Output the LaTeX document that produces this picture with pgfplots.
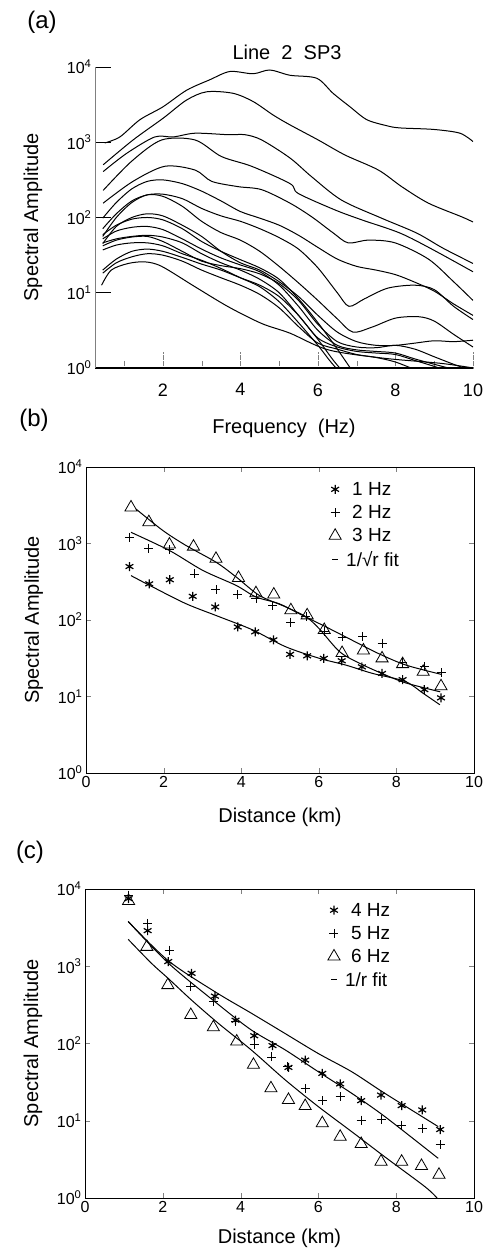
\documentclass[border=0pt]{standalone}
\usepackage{fontspec}
\setmainfont{Liberation Sans}
\usepackage{pgfplots}
\pgfplotsset{compat=1.18}
\tikzset{fitl/.style={mark=none, black, line width=1pt, smooth, tension=0.5},
  spec/.style={mark=none, black, line width=1pt, smooth, tension=0.5}}
\newcommand{\tenp}[1]{10\textsuperscript{#1}}
\begin{document}
\begin{tikzpicture}[x=1pt,y=1pt]
\useasboundingbox (0,0) rectangle (488,1252);
\node[font=\fontsize{24}{24}\selectfont] at (42,1230) {(a)};
\node[font=\fontsize{24}{24}\selectfont] at (34,832) {(b)};
\node[font=\fontsize{24}{24}\selectfont] at (30,400) {(c)};
\node[font=\fontsize{20}{20}\selectfont] at (287,1200) {Line\ \ 2\ \ SP3};

% ---------------- (a)
\begin{axis}[scale only axis, anchor=south west, at={(95pt,884pt)}, width=378pt, height=301pt,
  ymode=log, ymin=1, ymax=10000,
  ytick={1,10,100,1000,10000},
  yticklabels={\tenp{0},\tenp{1},\tenp{2},\tenp{3},\tenp{4}},
  yminorticks=false, tick align=inside,
  ylabel={Spectral Amplitude},
  label style={font=\fontsize{20}{20}\selectfont},
  xmin=0.25, xmax=10,
  axis x line*=bottom, axis y line*=left,
  x axis line style={line width=1.5pt},
  y axis line style={line width=0.5pt, gray},
  xtick={2,4,6,8,10}, minor xtick={1,3,5,7,9},
  xticklabels={2,4,6,8,10},
  major tick length=16pt, minor tick length=8pt,
  xtick style={densely dotted, gray},
  ytick style={black, line width=0.8pt},
  xticklabel style={font=\fontsize{18}{18}\selectfont, yshift=-12pt},
  yticklabel style={font=\fontsize{16}{16}\selectfont},
  xlabel={Frequency\ \ (Hz)},
  every axis x label/.append style={at={(axis description cs:0.5,-0.2)}, anchor=center},
  every axis y label/.append style={at={(axis description cs:-0.164,0.5)}, anchor=center},
]
\addplot[spec] coordinates {(0.50,977)(0.89,1175)(1.41,1995)(2.0,2950)(2.61,4900)(3.21,6760)(3.73,8710)(4.33,8130)(4.76,9120)(5.28,7760)(5.97,7080)(6.39,4470)(6.83,2950)(7.26,1995)(7.77,1660)(8.11,1550)(8.98,1480)(9.66,1320)(10,1020)};
\addplot[spec] coordinates {(0.46,501)(1.23,1070)(2.01,2090)(2.61,3630)(3.13,4680)(3.81,4470)(4.33,3470)(4.85,2290)(5.28,1700)(6.01,1070)(6.70,676)(7.56,427)(8.16,257)(8.85,155)(9.71,102)(10,87)};
\addplot[spec] coordinates {(0.46,407)(1.06,708)(1.79,1175)(2.27,1175)(2.83,1318)(3.69,1259)(4.12,1259)(4.55,1072)(5.28,617)(5.84,347)(6.61,170)(7.64,98)(8.55,62)(9.23,39)(10,24.5)};
\addplot[spec] coordinates {(0.46,229)(1.2,562)(1.97,1072)(2.83,1072)(3.51,646)(4.29,479)(5.28,282)(5.49,209)(6.44,126)(7.13,93)(8.12,62)(8.98,37)(10,19)};
\addplot[spec] coordinates {(0.46,155)(1.23,302)(2.05,479)(2.83,427)(3.26,302)(3.94,257)(4.55,234)(5.28,155)(5.84,102)(6.4,62)(6.78,46)(7.3,50)(7.99,46)(8.85,28)(9.5,14)(10,7.9)};
\addplot[spec] coordinates {(0.45,98)(0.8,158)(1.2,240)(1.6,302)(2.0,316)(2.5,282)(3.0,224)(3.5,166)(4.0,120)(4.5,98)(5.0,79)(5.5,58)(6.0,40)(6.5,28)(7.0,22.4)(7.5,20)(8.0,17.4)(8.5,13.8)(9.0,10.5)(9.5,7.1)(10,5.0)};
\addplot[spec] coordinates {(0.45,71)(0.8,112)(1.2,166)(1.6,200)(2.0,204)(2.5,178)(3.0,132)(3.5,105)(4.0,89)(4.5,71)(5.0,54)(5.5,38)(6.0,21.4)(6.5,10)(6.8,6.6)(7.2,8.3)(7.8,11.5)(8.5,12.6)(9.0,11)(9.5,6.6)(10,4.4)};
\addplot[spec] coordinates {(0.45,56)(0.8,100)(1.2,158)(1.6,200)(2.0,191)(2.5,141)(3.0,89)(3.5,63)(4.0,50)(4.5,35.5)(5.0,22.4)(5.5,13.5)(6.0,7.9)(6.5,4.5)(6.9,3.0)(7.4,3.5)(8.0,4.6)(8.6,4.8)(9.0,4.2)(9.5,2.8)(10,1.9)};
\addplot[spec] coordinates {(0.45,45)(0.8,76)(1.2,100)(1.6,112)(2.0,105)(2.5,79)(3.0,56)(3.5,35.5)(4.0,25)(4.5,20)(5.0,14)(5.5,8.9)(6.0,5.0)(6.5,3.0)(7.0,2.24)(7.5,2.0)(8.0,2.0)(8.5,2.14)(9.0,2.3)(9.5,2.24)(10,2.34)};
\addplot[spec] coordinates {(0.45,59)(0.8,79)(1.2,95)(1.6,100)(2.0,93)(2.5,71)(3.0,48)(3.5,35.5)(4.0,27.5)(4.5,21.4)(5.0,15.1)(5.5,8.3)(6.0,4.0)(6.5,1.78)(6.9,0.89)};
\addplot[spec] coordinates {(0.45,52)(0.8,66)(1.2,74)(1.6,76)(2.0,69)(2.5,52)(3.0,38)(3.5,29)(4.0,23.4)(4.5,19)(5.0,12.6)(5.5,6.6)(6.0,3.16)(6.5,2.0)(7.0,1.74)(7.5,1.66)(8.0,1.58)(8.5,1.32)(9.0,1.12)(9.6,0.93)};
\addplot[spec] coordinates {(0.45,46)(0.8,52)(1.2,56)(1.6,58)(2.0,55)(2.5,46)(3.0,33)(3.5,25)(4.0,20)(4.5,15.1)(5.0,10)(5.5,5.0)(6.0,2.4)(6.4,1.26)(6.65,0.89)};
\addplot[spec] coordinates {(0.45,42)(0.8,50)(1.2,55)(1.6,56)(2.0,48)(2.5,35.5)(3.0,26.3)(3.5,22.9)(4.0,20.9)(4.5,17.8)(5.0,13.2)(5.5,7.9)(6.0,3.8)(6.5,2.24)(7.0,1.9)(7.5,1.86)(8.0,2.0)(8.5,1.78)(9.0,1.41)(9.5,1.12)(9.9,0.95)};
\addplot[spec] coordinates {(0.45,37)(0.8,43)(1.2,46)(1.6,46)(2.0,42)(2.5,33)(3.0,27)(3.5,21)(4.0,15.8)(4.5,12)(5.0,7.6)(5.5,4.0)(6.0,2.0)(6.3,1.26)(6.55,0.89)};
\addplot[spec] coordinates {(0.45,20)(0.8,28)(1.2,35.5)(1.6,38)(2.0,35.5)(2.5,29.5)(3.0,24)(3.5,20)(4.0,15.8)(4.5,12.6)(5.0,8.9)(5.5,5.0)(6.0,2.5)(6.5,1.9)(7.0,1.66)(7.5,1.58)(8.0,1.51)(8.5,1.26)(9.0,1.05)(9.3,0.93)};
\addplot[spec] coordinates {(0.45,18.2)(0.8,25)(1.2,30)(1.6,33)(2.0,31.6)(2.5,26.3)(3.0,20)(3.5,15.8)(4.0,12.6)(4.5,9.5)(5.0,6.3)(5.5,3.55)(6.0,2.14)(6.5,1.78)(7.0,1.51)(7.5,1.38)(8.0,1.2)(8.5,0.95)};
\addplot[spec] coordinates {(0.42,12.6)(0.67,20)(1.11,24.5)(1.54,25.7)(1.97,22.4)(2.83,12)(3.69,6.5)(4.55,3.9)(5.28,2.9)(6.27,1.74)(7.69,1.35)(9.19,1.15)(10,1.0)};
\end{axis}

% ---------------- (b)
\begin{axis}[scale only axis, anchor=south west, at={(86pt,479pt)}, width=388pt, height=306pt,
  ymode=log, ymin=1, ymax=10000,
  ytick={1,10,100,1000,10000},
  yticklabels={\tenp{0},\tenp{1},\tenp{2},\tenp{3},\tenp{4}},
  yminorticks=false, tick align=inside,
  tick label style={font=\fontsize{16}{16}\selectfont},
  ylabel={Spectral Amplitude},
  label style={font=\fontsize{20}{20}\selectfont},
  xmin=0, xmax=10, xtick={0,2,4,6,8,10}, xticklabels={0,2,4,6,8,10},
  major tick length=5pt,
  axis line style={line width=0.9pt},
  xlabel={Distance (km)},
  every axis x label/.append style={at={(axis description cs:0.5,-0.144)}, anchor=center},
  every axis y label/.append style={at={(axis description cs:-0.135,0.5)}, anchor=center},
  legend style={at={(0.626,0.958)}, anchor=north west, draw=none, fill=none,
    font=\fontsize{19}{20}\selectfont, row sep=4.5pt, inner sep=0pt},
  legend cell align=left,
]
\addplot[only marks, mark=asterisk, mark size=4.5pt, black, line width=1.2pt] coordinates {(1.12,500)(1.63,297)(2.16,336)(2.75,204)(3.33,148)(3.91,81)(4.36,70)(4.83,55)(5.26,35.5)(5.70,34)(6.13,31.5)(6.59,29.3)(7.11,24.4)(7.63,20)(8.16,16.6)(8.72,12.3)(9.15,9.6)};
\addlegendentry{\hspace{9pt}1 Hz}
\addplot[only marks, mark=+, mark size=4.5pt, black, line width=0.8pt] coordinates {(1.12,1200)(1.62,870)(2.15,830)(2.79,400)(3.35,250)(3.91,215)(4.38,190)(4.81,155)(5.28,94)(5.67,110)(6.14,70)(6.60,60)(7.13,61)(7.63,50)(8.16,28)(8.72,24.5)(9.15,20.5)};
\addlegendentry{\hspace{9pt}2 Hz}
\addplot[only marks, mark=triangle, mark size=7pt, black, line width=0.8pt] coordinates {(1.16,2960)(1.62,1900)(2.15,970)(2.77,910)(3.35,630)(3.93,355)(4.38,224)(4.84,215)(5.28,134)(5.70,115)(6.14,74)(6.60,37)(7.15,40)(7.63,31.5)(8.16,26.5)(8.69,21)(9.15,13.6)};
\addlegendentry{\hspace{9pt}3 Hz}
\addlegendimage{legend image code/.code={\draw[line width=1pt] (0.2cm,0cm) -- (0.4cm,0cm);}}
\addlegendentry{\hspace{3pt}1/√r fit}
\addplot[fitl, forget plot] coordinates {(1.16,380)(1.72,270)(2.58,163)(3.44,110)(4.30,74)(5.15,44.6)(6.01,31.6)(6.70,25.7)(7.39,20)(8.22,15.8)(8.69,11)(9.12,7.8)};
\addplot[fitl, forget plot] coordinates {(1.16,1400)(2.15,810)(3.01,445)(3.87,283)(4.38,200)(4.98,163)(5.58,115)(6.19,81)(6.87,54)(7.56,36)(8.25,25.7)(9.15,19.5)};
\addplot[fitl, forget plot] coordinates {(1.29,2820)(1.98,1480)(2.58,940)(3.35,570)(3.87,365)(4.47,209)(5.15,148)(5.67,110)(6.01,77)(6.55,38)(7.13,26)(7.73,19)(8.25,15)(9.13,11.5)};
\end{axis}

% ---------------- (c)
\begin{axis}[scale only axis, anchor=south west, at={(85pt,54pt)}, width=389pt, height=309pt,
  ymode=log, ymin=1, ymax=10000,
  ytick={1,10,100,1000,10000},
  yticklabels={\tenp{0},\tenp{1},\tenp{2},\tenp{3},\tenp{4}},
  yminorticks=false, tick align=inside,
  tick label style={font=\fontsize{16}{16}\selectfont},
  ylabel={Spectral Amplitude},
  label style={font=\fontsize{20}{20}\selectfont},
  xmin=0, xmax=10, xtick={0,2,4,6,8,10}, xticklabels={0,2,4,6,8,10},
  major tick length=5pt,
  axis line style={line width=0.9pt},
  xlabel={Distance (km)},
  every axis x label/.append style={at={(axis description cs:0.5,-0.13)}, anchor=center},
  every axis y label/.append style={at={(axis description cs:-0.134,0.5)}, anchor=center},
  legend style={at={(0.624,0.962)}, anchor=north west, draw=none, fill=none,
    font=\fontsize{19}{20}\selectfont, row sep=4.5pt, inner sep=0pt},
  legend cell align=left,
]
\addplot[only marks, mark=asterisk, mark size=4.5pt, black, line width=1.2pt] coordinates {(1.12,7500)(1.61,2890)(2.14,1150)(2.74,810)(3.34,410)(3.87,200)(4.35,126)(4.82,94)(5.23,49)(5.66,61)(6.10,41)(6.56,30)(7.10,18.2)(7.61,21.5)(8.14,15.7)(8.67,13.8)(9.13,7.7)};
\addlegendentry{\hspace{9pt}4 Hz}
\addplot[only marks, mark=+, mark size=4.5pt, black, line width=0.8pt] coordinates {(1.12,8300)(1.61,3600)(2.16,1620)(2.72,545)(3.30,348)(3.87,195)(4.35,96)(4.80,67)(5.21,50)(5.66,26)(6.10,18.2)(6.56,20.5)(7.10,10.2)(7.61,10.4)(8.14,8.8)(8.67,8.0)(9.13,4.9)};
\addlegendentry{\hspace{9pt}5 Hz}
\addplot[only marks, mark=triangle, mark size=7pt, black, line width=0.8pt] coordinates {(1.12,7000)(1.59,1780)(2.13,570)(2.72,234)(3.30,162)(3.90,106)(4.33,53)(4.78,26.3)(5.23,18.6)(5.66,15.5)(6.10,9.3)(6.56,6.2)(7.10,5.0)(7.61,2.95)(8.14,2.95)(8.65,2.6)(9.10,2.0)};
\addlegendentry{\hspace{9pt}6 Hz}
\addlegendimage{legend image code/.code={\draw[line width=1pt] (0.2cm,0cm) -- (0.4cm,0cm);}}
\addlegendentry{\hspace{3pt}1/r fit}
\addplot[fitl, forget plot] coordinates {(1.11,3800)(2.14,1180)(3.34,468)(4.28,246)(5.14,135)(6.0,74)(6.86,43)(7.71,22.6)(9.08,8.4)};
\addplot[fitl, forget plot] coordinates {(1.11,3800)(2.14,1100)(3.34,347)(4.28,149)(5.14,83)(6.0,43)(6.86,22.6)(7.71,11.3)(9.08,3.26)};
\addplot[fitl, forget plot] coordinates {(1.11,2230)(1.71,1090)(2.14,695)(2.74,364)(3.43,182)(4.28,82)(5.14,34)(6.0,15.2)(6.86,7.2)(7.71,3.4)(8.74,1.4)(9.05,1.0)};
\end{axis}
\end{tikzpicture}
\end{document}
